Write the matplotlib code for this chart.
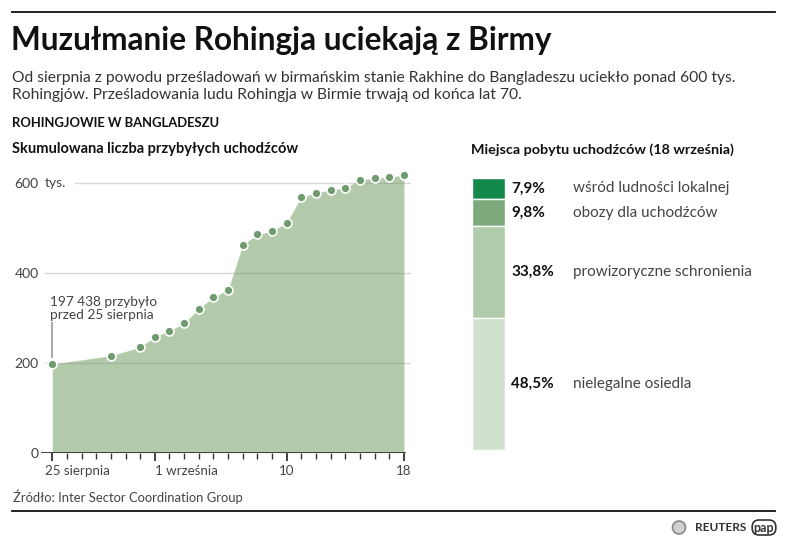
import numpy as np
import matplotlib
matplotlib.use("Agg")
import matplotlib.pyplot as plt
import matplotlib.transforms as mtransforms
from matplotlib.lines import Line2D
from matplotlib.patches import Circle

plt.rcParams['font.family'] = ['Lato', 'DejaVu Sans']

# dni liczone od 25 sierpnia, liczba uchodzcow w tys.
dni = [0, 4, 6, 7, 8, 9, 10, 11, 12, 13, 14, 15, 16, 17, 18, 19, 20, 21, 22, 23, 24]
uchodzcy = [197.4, 216, 235, 258, 272, 288, 321, 346, 363, 463, 486, 493, 512,
            570, 578, 586, 589, 608, 611, 614, 618]
dni_etykiety = [0, 7, 16, 24]
etykiety_x = ['25 sierpnia', '1 września', '10', '18']
wyrownanie_x = ['left', 'left', 'center', 'center']
y_ticks = [0, 200, 400, 600]

# miejsca pobytu (18 wrzesnia)
miejsca = ['wśród ludności lokalnej', 'obozy dla uchodźców',
           'prowizoryczne schronienia', 'nielegalne osiedla']
udzialy = [7.9, 9.8, 33.8, 48.5]
kolory = ['#13894a', '#7eaa7e', '#afcba9', '#d2e0ce']

W, H = 788, 541


def fx(px):
    return px / W


def fy(py):
    return 1 - py / H


fig = plt.figure(figsize=(W / 100, H / 100), dpi=100)

# --- naglowek ---
fig.add_artist(Line2D([fx(12), fx(775)], [fy(12), fy(12)], color='#111', lw=1.3))
fig.text(fx(11), fy(50), 'Muzułmanie Rohingja uciekają z Birmy', fontsize=22.7,
         fontweight='bold', color='#111', va='baseline')
fig.text(fx(12), fy(82), 'Od sierpnia z powodu prześladowań w birmańskim stanie Rakhine '
         'do Bangladeszu uciekło ponad 600 tys.', fontsize=11.25, color='#333', va='baseline')
fig.text(fx(12), fy(99.5), 'Rohingjów. Prześladowania ludu Rohingja w Birmie trwają '
         'od końca lat 70.', fontsize=11.25, color='#333', va='baseline')
fig.text(fx(12), fy(127), 'ROHINGJOWIE W BANGLADESZU', fontsize=9.4, fontweight='bold',
         color='#111', va='baseline')
fig.text(fx(12), fy(153.5), 'Skumulowana liczba przybyłych uchodźców', fontsize=10.5,
         fontweight='bold', color='#111', va='baseline')
fig.text(fx(471), fy(153.5), 'Miejsca pobytu uchodźców (18 września)', fontsize=10.4,
         fontweight='bold', color='#111', va='baseline')

# --- wykres powierzchniowy ---
ax = fig.add_axes([fx(41.3), fy(452.7), (411.2 - 41.3) / W, (452.7 - 174.3) / H])
ax.set_xlim(-0.75, 24.5)
ax.set_ylim(0, 620)
for s in ax.spines.values():
    s.set_visible(False)

ax.fill_between(dni, uchodzcy, color='#b3cbab', lw=0, zorder=2)
ax.plot(dni, uchodzcy, 'o', ms=6.4, mfc='#6f9b6f', mec='white', mew=1.2,
        zorder=5, clip_on=False)

for v in y_ticks[1:]:
    start = 0.091 if v == y_ticks[-1] else 0.01
    ax.axhline(v, xmin=start, xmax=1, color='#777', alpha=0.28, lw=1, zorder=3)
ax.axhline(0, xmin=0, xmax=0.983, color='#333', lw=1.3, zorder=4)

ax.set_yticks(y_ticks)
ax.set_yticklabels([str(v) for v in y_ticks])
ax.tick_params(axis='y', length=0, pad=2, labelsize=10, labelcolor='#444')
fig.text(fx(45), fy(183.3), 'tys.', fontsize=10, color='#444', va='center')

ax.set_xticks(dni_etykiety)
ax.set_xticklabels(etykiety_x)
ax.set_xticks(range(0, 25), minor=True)
ax.tick_params(axis='x', which='major', length=6, width=1.3, color='#333',
               pad=3, labelsize=9.6, labelcolor='#444')
ax.tick_params(axis='x', which='minor', length=4, width=1, color='#333')
for lab, ha in zip(ax.get_xticklabels(), wyrownanie_x):
    lab.set_ha(ha)
przesun = mtransforms.ScaledTranslation(-7 / 100, 0, fig.dpi_scale_trans)
lab0 = ax.get_xticklabels()[0]
lab0.set_transform(lab0.get_transform() + przesun)

ax.vlines(dni[0], uchodzcy[0] + 14, 290, color='#999', lw=1.2, zorder=4)
ax.text(dni[0] - 0.15, 294, '197 438 przybyło\nprzed 25 sierpnia', fontsize=9.8,
        color='#444', va='bottom', ha='left', linespacing=1.1, zorder=6)

# --- slupek udzialow ---
bx = fig.add_axes([fx(472.3), fy(450), (783 - 472.3) / W, (450 - 177.7) / H])
bx.set_xlim(0, 1)
bx.set_ylim(100, 0)
bx.axis('off')
szer = 32.7 / (783 - 472.3)
dolne = np.concatenate([[0], np.cumsum(udzialy)[:-1]])
bx.bar(0, udzialy, bottom=dolne, width=szer, align='edge', color=kolory,
       edgecolor='white', lw=1)
for nazwa, u, d in zip(miejsca, udzialy, dolne):
    bx.text(0.1246, d + u / 2, f'{u:.1f}%'.replace('.', ','), fontsize=11,
            fontweight='bold', color='#111', va='center')
    bx.text(0.323, d + u / 2, nazwa, fontsize=11, color='#444', va='center')

# --- stopka ---
fig.text(fx(12.7), fy(502.5), 'Źródło: Inter Sector Coordination Group', fontsize=9.4,
         color='#444', va='baseline')
fig.add_artist(Line2D([fx(12), fx(775)], [fy(511), fy(511)], color='#111', lw=1.3))
logo = Circle((679, H - 527.5), 6.5, transform=mtransforms.IdentityTransform(),
              fc='#d0d0d0', ec='#888', lw=1.2)
fig.add_artist(logo)
fig.text(fx(695), fy(527.5), 'REUTERS', fontsize=8.5, fontweight='bold', color='#333',
         va='center')
fig.text(fx(764), fy(527.5), 'pap', fontsize=9, fontweight='bold', color='#333',
         ha='center', va='center',
         bbox=dict(boxstyle='round,pad=0.12,rounding_size=0.55', fc='white', ec='#333', lw=1.2))

fig.savefig('out.png', dpi=100)
